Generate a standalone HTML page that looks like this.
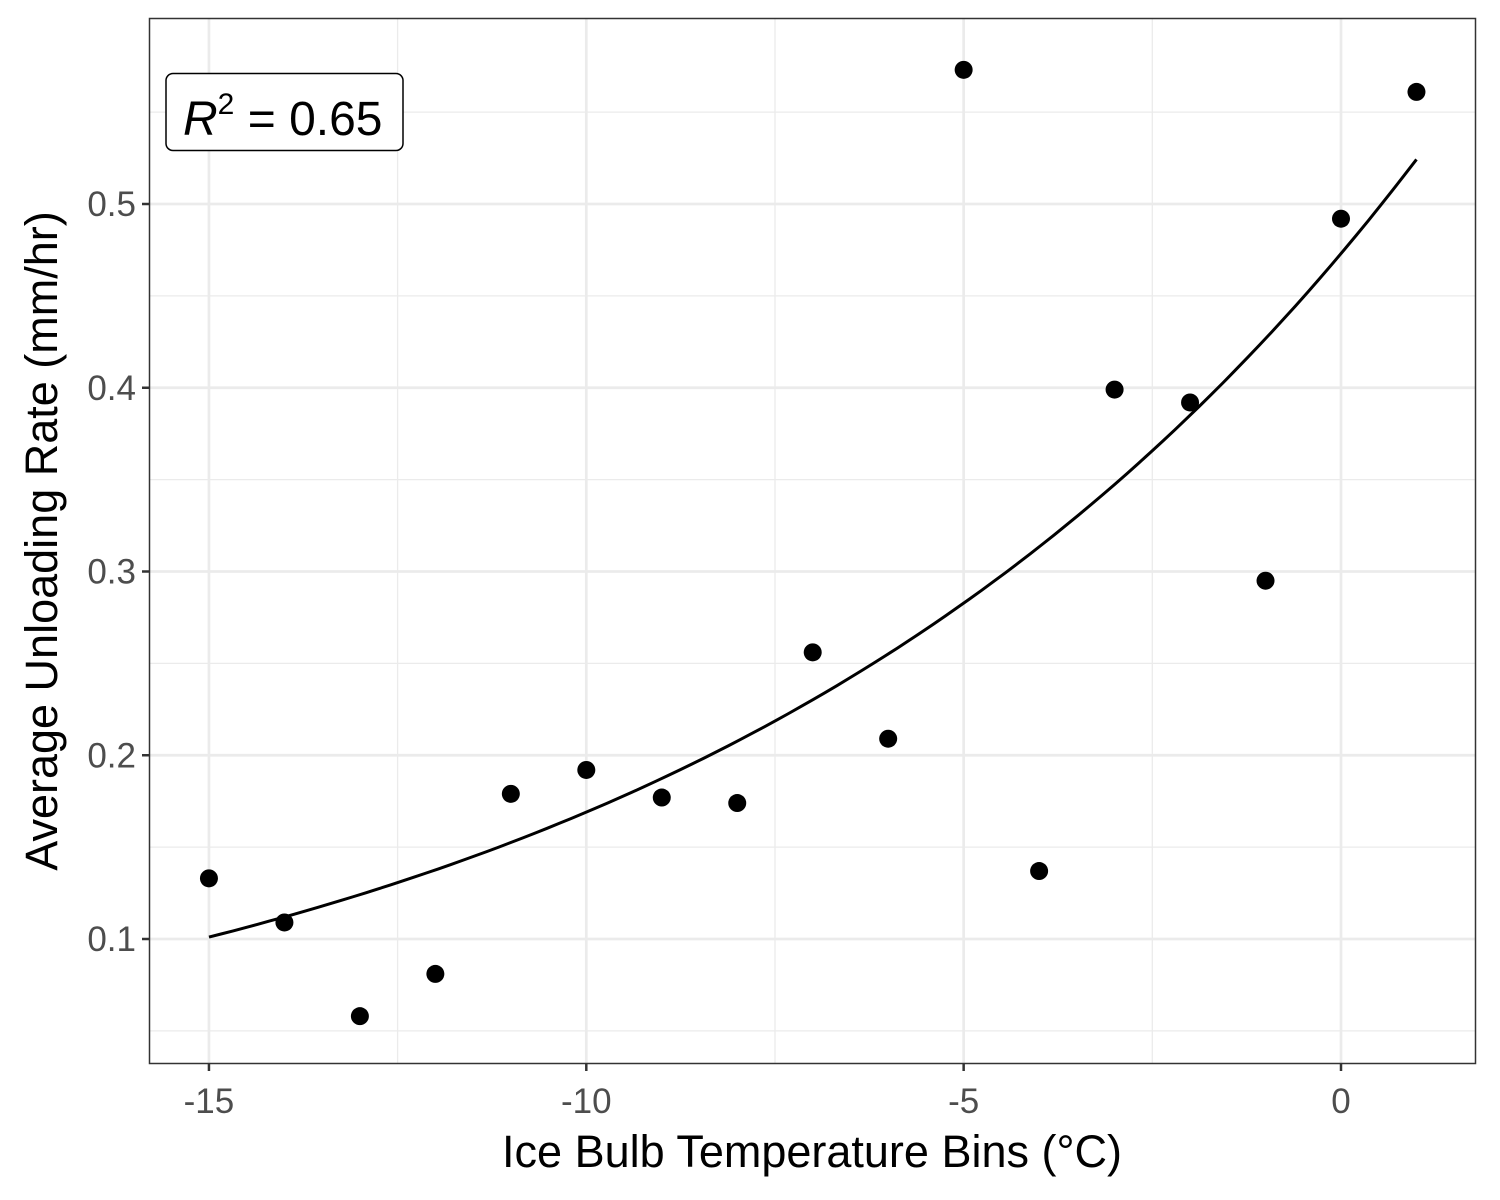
<!DOCTYPE html>
<html><head><meta charset="utf-8"><style>
html,body{margin:0;padding:0;background:#fff;}
svg{display:block;font-family:"Liberation Sans",Arial,sans-serif;}
</style></head><body>
<svg id="chart" width="1500" height="1200" viewBox="0 0 1500 1200">
<rect x="0" y="0" width="1500" height="1200" fill="#fff"/>
<g id="grid-minor"></g>
<g id="grid-major"></g>
<g id="fit"></g>
<g id="points"></g>
<rect x="149.5" y="18.5" width="1326" height="1045" fill="none" stroke="#333" stroke-width="1.5"/>
<g id="xaxis"></g>
<g id="yaxis"></g>
<text x="812" y="1167" font-size="45" text-anchor="middle" fill="#000">Ice Bulb Temperature Bins (°C)</text>
<text transform="translate(57,541) rotate(-90)" font-size="45" text-anchor="middle" fill="#000">Average Unloading Rate (mm/hr)</text>
<g>
<rect x="166" y="73.5" width="237" height="77" rx="7" fill="#fff" stroke="#000" stroke-width="1.5"/>
<text x="183" y="135" font-size="48" fill="#000"><tspan font-style="italic">R</tspan><tspan font-size="30" dy="-21">2</tspan><tspan dy="21"> = 0.65</tspan></text>
</g>
</svg>
<script>
const temps = [-15,-14,-13,-12,-11,-10,-9,-8,-7,-6,-5,-4,-3,-2,-1,0,1];
const rates = [0.133,0.109,0.058,0.081,0.179,0.192,0.177,0.174,0.256,0.209,0.573,0.137,0.399,0.392,0.295,0.492,0.561];
const xTicks = [-15,-10,-5,0];
const xTickLabels = ["-15","-10","-5","0"];
const xMinor = [-12.5,-7.5,-2.5];
const yTicks = [0.1,0.2,0.3,0.4,0.5];
const yTickLabels = ["0.1","0.2","0.3","0.4","0.5"];
const yMinor = [0.05,0.15,0.25,0.35,0.45,0.55];
const fitParams = [0.473,0.1029];
const ns="http://www.w3.org/2000/svg";
function sx(v){return 1341+(v-0)*75.47;}
function sy(v){return 939-(v-0.1)*1837.5;}
const L=150,R=1475,T=19,B=1063;
function mk(tag,attrs,parent){const e=document.createElementNS(ns,tag);for(const k in attrs)e.setAttribute(k,attrs[k]);parent.appendChild(e);return e;}
const gmin=document.getElementById('grid-minor'),gmaj=document.getElementById('grid-major');
xMinor.forEach(v=>{const l=mk('line',{x1:sx(v),x2:sx(v),y1:T,y2:B,stroke:'#ebebeb','stroke-width':1.3},gmin);

});
yMinor.forEach(v=>{const l=mk('line',{x1:L,x2:R,y1:sy(v),y2:sy(v),stroke:'#ebebeb','stroke-width':1.3},gmin);

});
const xa=document.getElementById('xaxis'),ya=document.getElementById('yaxis');
xTicks.forEach((v,i)=>{const l=mk('line',{x1:sx(v),x2:sx(v),y1:T,y2:B,stroke:'#ebebeb','stroke-width':2.7},gmaj);


const t=mk('line',{x1:sx(v),x2:sx(v),y1:1064,y2:1071,stroke:'#333','stroke-width':2.5},xa);


const tx=mk('text',{x:sx(v),y:1113,'font-size':35,'text-anchor':'middle',fill:'#4d4d4d'},xa);tx.textContent=xTickLabels[i];

});
yTicks.forEach((v,i)=>{const l=mk('line',{x1:L,x2:R,y1:sy(v),y2:sy(v),stroke:'#ebebeb','stroke-width':2.7},gmaj);


const t=mk('line',{x1:142,x2:149,y1:sy(v),y2:sy(v),stroke:'#333','stroke-width':2.5},ya);


const tx=mk('text',{x:136,y:sy(v)+12,'font-size':35,'text-anchor':'end',fill:'#4d4d4d'},ya);tx.textContent=yTickLabels[i];

});
let d='';const x0=temps[0],x1=temps[temps.length-1];
for(let i=0;i<=100;i++){const x=x0+(x1-x0)*i/100;const y=fitParams[0]*Math.exp(fitParams[1]*x);d+=(i?'L':'M')+sx(x).toFixed(1)+','+sy(y).toFixed(1);}
const p=mk('path',{d:d,fill:'none',stroke:'#000','stroke-width':3},document.getElementById('fit'));


const gp=document.getElementById('points');
temps.forEach((t,i)=>{const c=mk('circle',{cx:sx(t),cy:sy(rates[i]),r:9,fill:'#000'},gp);

});
</script>
</body></html>
